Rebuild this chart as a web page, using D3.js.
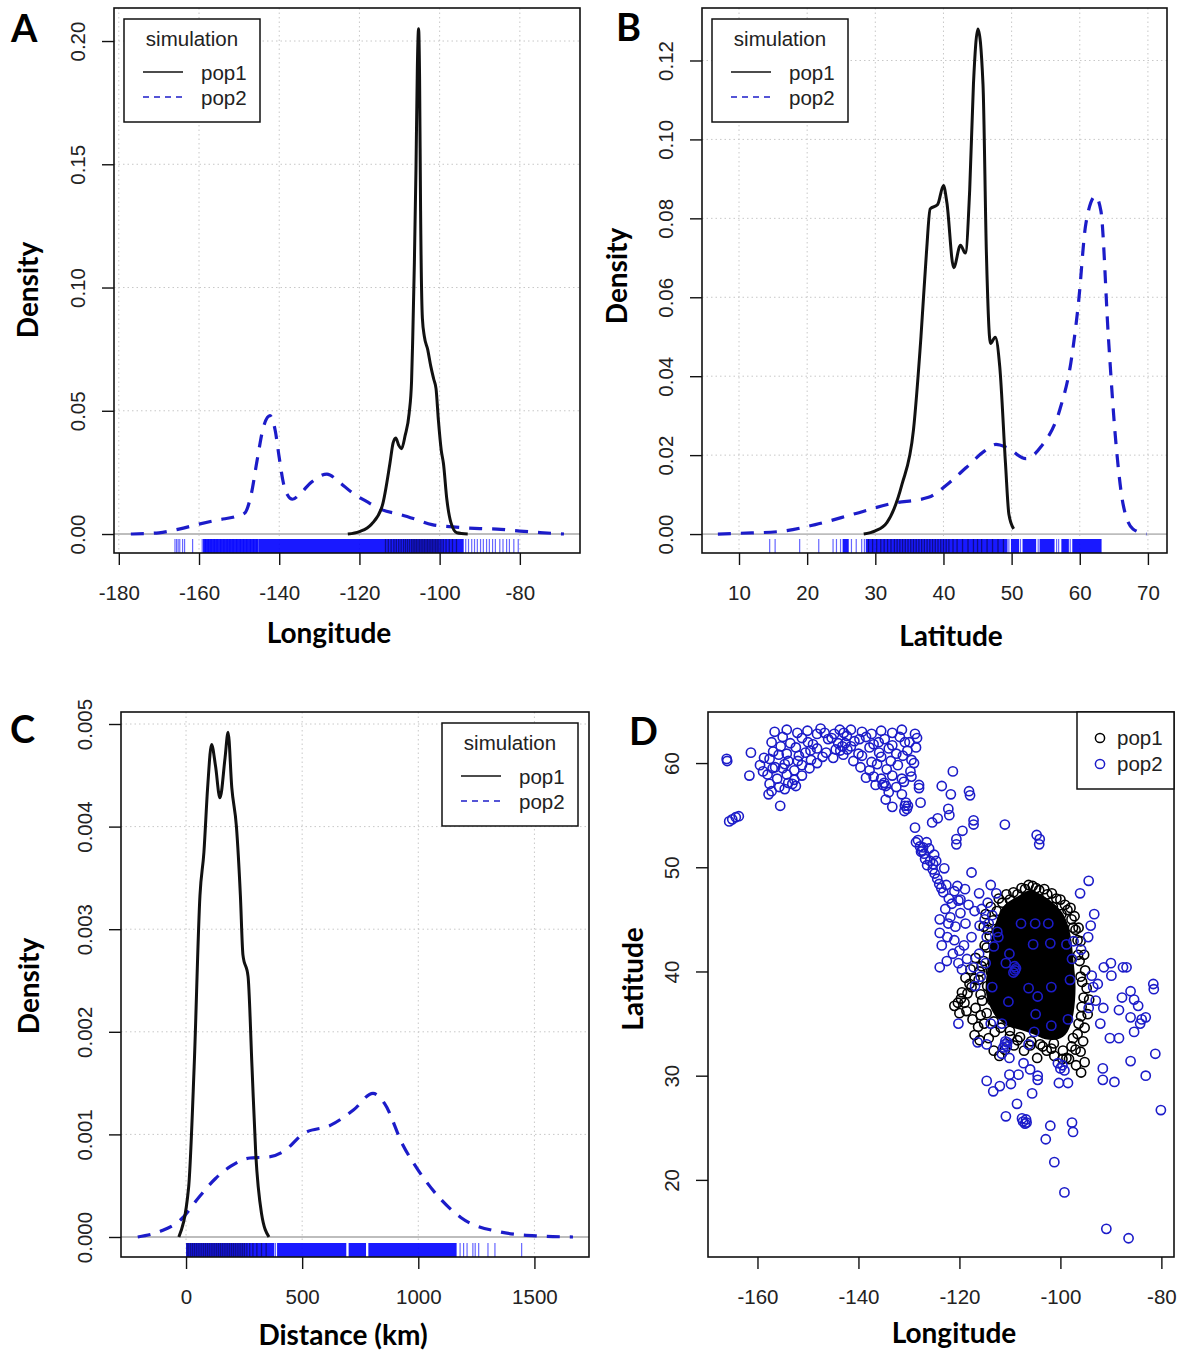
<!DOCTYPE html>
<html>
<head>
<meta charset="utf-8">
<script src="https://d3js.org/d3.v7.min.js"></script>
<style>
  body { margin: 0; background: #fff; }
  svg { display: block; }
</style>
</head>
<body>
<script>
// ---------- data ----------
// Panel A : longitude densities
const lonTicks = [-180, -160, -140, -120, -100, -80];
const densTicksA = [0, 0.05, 0.10, 0.15, 0.20];
const pop1Lon = [[-122.9,0],[-120,0.001],[-117,0.004],[-114.3,0.0115],[-112.4,0.0286],[-111.6,0.037],[-110.95,0.039],[-110.2,0.036],[-109.5,0.0346],[-108.6,0.040],[-107.6,0.049],[-107,0.062],[-106.7,0.080],[-106.3,0.11],[-105.9,0.148],[-105.55,0.19],[-105.25,0.205],[-105.0,0.185],[-104.75,0.131],[-104.3,0.0875],[-103.8,0.080],[-103.0,0.075],[-102.2,0.068],[-101.5,0.063],[-100.9,0.059],[-100.3,0.046],[-99.6,0.034],[-99.05,0.0286],[-98.2,0.014],[-97.2,0.0047],[-95.7,0.0005],[-93,0]];
const pop2Lon = [[-177,0],[-170,0.0005],[-165,0.002],[-160,0.004],[-155,0.0058],[-151,0.007],[-148.6,0.0085],[-147,0.016],[-145.5,0.030],[-144,0.043],[-142.3,0.048],[-141,0.042],[-140,0.031],[-139,0.021],[-138,0.016],[-136.7,0.0141],[-135,0.016],[-132,0.021],[-128.1,0.0243],[-125,0.021],[-122,0.017],[-118,0.013],[-114.3,0.0098],[-110,0.008],[-106,0.006],[-101.9,0.0038],[-96,0.0028],[-90,0.0022],[-85.7,0.002],[-80,0.0012],[-75,0.0006],[-69,0]];
const rugA2Bands = [[-159.0, -145.2], [-145.2, -94.0]];
const rugA2Lines = [-166.0,-165.6,-165.2,-164.8,-164.1,-163.6,-161.6,-159.2,-158.4,-157.7,-157.0,-156.2,-155.5,-154.6,-153.8,-153.0,-152.3,-151.5,-150.6,-149.7,-148.9,-148.1,-147.2,-146.4,-145.6,-93.5,-92.8,-92.0,-91.3,-90.6,-89.8,-89.1,-88.3,-87.6,-86.8,-86.1,-85.0,-84.2,-83.3,-82.6,-81.5,-80.4];
const rugA1Lines = [-113.5,-112.8,-112.1,-111.4,-110.8,-110.2,-109.6,-109.0,-108.5,-108.0,-107.5,-107.0,-106.6,-106.2,-105.8,-105.4,-105.0,-104.6,-104.2,-103.8,-103.4,-103.0,-102.6,-102.2,-101.8,-101.4,-101.0,-100.6,-100.2,-99.7,-99.1,-98.4,-97.6,-96.8,-95.8];

// Panel B : latitude densities
const latTicks = [10, 20, 30, 40, 50, 60, 70];
const densTicksB = [0, 0.02, 0.04, 0.06, 0.08, 0.10, 0.12];
const pop1Lat = [[28.3,0],[30,0.0008],[31.7,0.0029],[33.9,0.0125],[35.6,0.0264],[36.7,0.050],[37.5,0.0712],[38.05,0.0824],[39.15,0.0835],[40.0,0.0883],[40.5,0.084],[41.5,0.0675],[42.5,0.0732],[43.2,0.0712],[43.85,0.0872],[44.4,0.114],[45.06,0.128],[45.8,0.114],[46.3,0.0712],[46.9,0.0483],[47.6,0.0499],[48.26,0.0424],[49.1,0.0179],[49.6,0.005],[50.3,0.0013]];
const pop2Lat = [[6.9,0],[10.2,0.0002],[15.7,0.0006],[21.2,0.0024],[26.7,0.005],[32.3,0.0077],[37.8,0.0093],[40.5,0.0125],[43.3,0.0168],[46.0,0.021],[47.7,0.0227],[49.3,0.0219],[52.1,0.0191],[54.3,0.0221],[57.1,0.0317],[58.7,0.0435],[59.8,0.0584],[60.9,0.0787],[62.3,0.0856],[63.1,0.0819],[64.2,0.0499],[65.3,0.0232],[66.4,0.0072],[67.8,0.0013],[69.8,0]];
const rugB2Bands = [[25.2,26.1],[28.6,49.4],[49.9,51.1],[51.6,53.6],[54.1,56.3],[57.3,58.4],[58.9,63.2]];
const rugB2Lines = [14.5,15.3,18.9,21.7,23.8,24.3,24.9,26.5,27.2,28.0,28.4,49.6,51.3,53.9,56.6,56.9,58.6];
const rugB1Lines = [29.0,29.6,30.2,30.8,31.3,31.8,32.3,32.8,33.2,33.6,34.0,34.4,34.8,35.2,35.6,36.0,36.4,36.8,37.2,37.6,38.0,38.4,38.8,39.2,39.6,40.0,40.4,40.8,41.4,42.0,42.8,43.6,44.4,45.0,45.6,46.4,47.2,48.0,48.8];

// Panel C : distance densities
const distTicks = [0, 500, 1000, 1500];
const densTicksC = [0, 0.001, 0.002, 0.003, 0.004, 0.005];
const pop1Dist = [[-31,0],[11,0.00048],[35,0.00166],[60,0.00333],[77,0.00375],[93,0.00438],[110,0.0048],[127,0.00459],[146,0.00428],[168,0.00467],[181,0.00492],[197,0.00438],[217,0.0040],[234,0.00333],[245,0.00275],[267,0.00254],[284,0.00166],[300,0.00082],[325,0.00023],[357,0]];
const pop2Dist = [[-208,0],[-105,0.00006],[-22,0.00017],[60,0.0004],[127,0.00057],[193,0.00069],[275,0.00077],[357,0.00078],[424,0.00084],[507,0.00101],[623,0.00109],[722,0.00124],[805,0.0014],[855,0.0013],[933,0.0009],[1000,0.00065],[1100,0.00036],[1183,0.00019],[1352,0.00005],[1517,0.00001],[1666,0]];
const rugC2Bands = [[0,380],[392,690],[700,775],[785,1165]];
const rugC2Lines = [385,1180,1195,1210,1235,1245,1260,1300,1330,1445];
const rugC1Lines = [5,12,20,28,36,44,52,60,68,76,84,92,100,108,116,124,132,140,148,156,164,172,180,188,196,204,212,220,228,236,244,252,262,274,288,305,325,345];

// Panel D : scatter of locations
const lonTicksD = [-160, -140, -120, -100, -80];
const latTicksD = [20, 30, 40, 50, 60];
const pop1Core = [[-111,46.4],[-108.5,47.2],[-106,47.8],[-103.5,47.3],[-101,46.4],[-99.2,45.3],[-98,43.5],[-97.4,41],[-97,38.5],[-97.4,36],[-98.6,34.2],[-100.5,33.5],[-103,33.5],[-105.5,34],[-108,34.4],[-110.5,34.8],[-112.4,35.5],[-113.8,36.5],[-114.8,38.2],[-114.4,40.5],[-113.7,43],[-112.5,45.1]];
const pop1Pts = [[-121.0,36.7],[-120.3,37.0],[-119.7,37.4],[-119.0,37.0],[-118.4,37.9],[-117.6,38.5],[-118.6,36.2],[-117.4,35.4],[-116.3,34.7],[-116.0,33.4],[-117.0,33.9],[-115.1,35.0],[-114.2,33.6],[-113.2,32.4],[-112.1,31.9],[-111.0,32.5],[-109.2,32.9],[-107.2,32.4],[-104.6,31.7],[-102.7,32.4],[-101.2,31.9],[-99.6,31.6],[-98.3,31.6],[-96.9,31.0],[-95.9,30.3],[-95.2,31.3],[-96.0,32.3],[-95.5,33.3],[-95.2,34.6],[-94.6,35.9],[-94.3,37.3],[-94.8,38.4],[-95.1,40.1],[-95.3,41.6],[-96.0,42.9],[-96.4,44.2],[-97.2,45.3],[-98.0,46.1],[-99.1,46.4],[-100.8,47.0],[-102.6,47.4],[-104.2,47.8],[-105.5,48.2],[-107.0,47.9],[-108.5,47.4],[-110.0,46.9],[-111.5,46.6],[-112.6,45.8],[-113.3,44.9],[-114.0,43.4],[-114.6,42.3],[-115.2,41.0],[-116.0,40.0],[-117.0,39.3],[-118.0,38.8],[-112.0,36.0],[-113.5,37.2],[-115.5,37.2],[-116.8,36.5],[-115.8,35.8],[-113.0,34.2],[-110.0,33.8],[-108.5,33.4],[-106.0,32.9],[-103.5,32.8],[-101.3,33.1],[-97.5,33.6],[-96.4,35.0],[-95.8,36.6],[-96.0,39.5],[-96.5,41.6],[-97.5,44.2],[-99.8,45.5],[-101.5,46.2],[-103.8,46.6],[-106.8,47.0],[-109.2,46.2],[-111.0,45.6],[-112.3,44.0],[-113.0,42.0],[-113.8,40.0],[-114.5,38.6],[-98.8,31.7],[-97.0,32.5],
  [-115.2,44.3],[-114.8,45.5],[-113.8,46.2],[-112.2,47.0],[-110.7,47.4],[-109.3,47.6],[-107.7,48.0],[-106.3,48.3],[-104.8,48.0],[-103.2,47.9],[-101.7,47.5],[-100.0,46.9],[-98.6,45.9],[-97.8,45.0],[-97.0,44.0],[-96.6,43.0],[-96.2,41.0],[-95.7,39.0],[-95.4,37.5],[-95.9,35.7],[-96.6,34.0],[-97.8,32.8],[-99.5,32.4],[-101.8,32.6],[-104.0,33.0],[-105.8,33.3],[-108.0,33.7],[-110.0,34.3],[-111.8,34.6],[-113.2,35.2],[-114.6,36.0],[-115.8,37.8],[-116.2,39.2],[-115.6,40.5],[-115.0,42.5],[-114.4,44.0],[-120.0,36.0],[-119.5,38.0],[-118.8,39.4],[-117.8,40.2],[-116.8,41.3]];
const pop2Pts = [
  // northern arc
  [-156.6,63.0],[-154.2,63.2],[-152.1,62.9],[-150.1,63.1],[-148.2,62.8],[-147.5,63.3],[-146.7,62.9],[-143.7,63.2],[-142.9,62.9],[-141.5,63.2],[-139.3,63.0],[-137.4,62.8],[-135.5,63.1],[-133.3,62.9],[-131.4,63.2],[-128.8,62.8],
  [-157.2,62.0],[-155.0,62.5],[-153.5,61.9],[-151.2,62.4],[-149.0,61.8],[-145.3,62.4],[-144.0,61.9],[-142.3,62.6],[-140.8,62.1],[-138.5,62.5],[-137.0,61.8],[-134.8,62.3],[-133.3,61.7],[-131.8,62.5],[-129.9,62.0],[-128.4,62.4],
  [-156.9,61.1],[-155.4,61.6],[-154.2,60.9],[-152.4,61.5],[-150.5,61.0],[-148.2,61.4],[-146.4,61.0],[-144.5,61.3],[-143.0,60.8],[-141.5,61.6],[-140.0,60.9],[-137.8,61.5],[-135.9,61.0],[-134.0,61.4],[-132.5,60.9],[-130.3,61.2],[-128.6,61.5],
  [-157.6,60.4],[-155.8,60.8],[-153.9,60.2],[-151.8,60.7],[-149.4,60.3],[-147.1,60.6],[-145.0,60.5],[-141.0,60.2],[-139.3,60.7],[-137.4,60.1],[-135.5,60.6],[-133.6,60.2],[-131.2,60.7],[-129.5,60.3],
  [-156.5,59.6],[-154.6,59.9],[-152.7,59.3],[-151.2,59.8],[-149.7,59.5],[-148.2,60.0],[-139.6,59.6],[-137.8,59.3],[-136.3,59.9],[-134.4,59.4],[-132.2,59.8],[-129.7,59.2],
  [-158.0,58.9],[-156.1,58.5],[-154.2,58.9],[-152.7,58.4],[-151.2,58.8],[-137.0,58.7],[-135.5,58.5],[-133.3,58.8],[-131.4,58.5],[-129.5,58.7],
  [-157.6,58.0],[-155.7,57.7],[-153.9,58.1],[-152.4,57.8],[-136.6,57.9],[-132.5,57.7],[-128.0,57.9],[-157.2,57.3],[-154.6,57.5],[-153.1,58.0],
  [-159.5,59.8],[-157.0,59.5],[-150.0,62.0],[-146.0,62.3],[-144.8,62.8],[-139.8,62.3],[-136.0,62.0],[-130.8,62.0],[-129.0,60.0],[-131.0,58.2],[-149.5,61.2],[-155.0,59.5],[-152.0,60.2],[-138.5,58.6],[-134.0,57.2],
  [-166.1,60.4],[-166.0,60.2],[-165.6,54.4],[-165.0,54.6],[-164.3,54.8],[-163.7,54.9],[-161.3,61.0],[-161.6,58.8],[-158.7,60.5],[-158.9,59.2],[-157.8,57.0],[-155.5,55.9],[-134.6,56.5],[-133.3,55.8],[-131.4,57.0],[-127.7,56.2],[-128.0,57.6],[-128.8,53.8],
  [-143.2,61.6],[-142.6,61.9],[-143.6,61.2],[-142.2,61.3],[-134.9,58.1],[-134.6,57.8],[-135.2,57.9],[-130.8,55.9],[-130.4,55.6],[-130.6,56.2],[-130.2,55.9],[-130.9,55.4],
  // diagonal band
  [-128.6,52.4],[-128.2,52.6],[-127.8,52.0],[-127.4,51.6],[-127.0,51.3],[-127.6,51.5],[-127.2,51.9],[-126.8,50.8],[-126.4,50.2],[-125.8,50.6],[-125.3,49.8],[-124.9,49.4],[-124.4,48.9],[-124.0,48.4],[-123.6,48.0],[-123.2,47.6],[-122.6,48.3],[-122.1,47.0],[-121.5,46.5],[-121.0,47.7],[-120.4,48.2],[-119.8,46.9],[-125.4,54.3],[-124.3,54.7],[-123.5,57.8],[-121.7,57.0],[-121.3,59.2],[-122.2,55.6],[-122.0,55.0],[-120.6,52.7],[-120.6,52.2],[-119.4,53.5],[-118.1,57.3],[-117.9,56.9],[-117.2,54.5],[-117.2,54.1],[-111.0,54.1],[-104.7,53.1],[-104.1,52.7],[-104.2,52.2],[-126.0,51.8],[-125.0,51.2],[-124.6,50.6],[-123.0,49.9],[-126.5,52.4],[-125.2,50.3],
  [-123.9,45.0],[-123.9,43.7],[-123.5,42.5],[-123.9,40.4],[-122.4,43.3],[-121.3,41.7],[-120.2,40.8],[-119.1,42.5],[-117.6,43.3],[-116.1,41.7],[-114.6,43.3],[-115.0,45.0],[-113.5,45.4],[-117.6,49.5],[-116.1,47.5],[-113.8,48.3],[-112.7,47.5],[-122.8,46.0],[-121.8,45.2],[-120.8,44.3],[-119.8,45.6],[-118.8,44.6],[-118.2,46.4],[-117.0,45.8],[-116.0,44.4],[-114.4,46.6],[-122.5,41.0],[-121.0,43.0],[-120.0,42.0],[-118.5,41.2],[-117.2,40.4],[-119.5,40.2],[-122.2,44.6],[-120.2,46.8],[-118.9,47.9],[-115.6,46.0],[-114.2,44.6],[-112.5,43.8],[-113.2,42.4],[-114.8,40.8],[-115.8,39.5],[-116.9,38.6],
  // inside the pop1 cloud
  [-107.8,44.6],[-105.0,44.6],[-102.4,44.6],[-105.4,42.6],[-102.0,42.7],[-98.8,42.6],[-110.8,40.8],[-113.5,38.5],[-106.3,38.4],[-104.5,37.6],[-101.8,38.5],[-110.3,37.1],[-104.9,35.9],[-98.1,39.2],[-98.5,35.4],[-101.8,34.8],[-105.2,34.2],[-112.3,43.3],[-110.1,41.7],[-97.7,41.2],[-97.4,42.9],[-95.9,42.1],[-109.0,40.1],[-109.3,39.9],[-108.8,40.3],[-109.1,40.5],
  // east
  [-94.4,48.7],[-96.1,47.5],[-93.3,45.5],[-94.0,44.4],[-94.5,43.3],[-91.4,40.4],[-90.0,40.8],[-87.6,40.4],[-86.9,40.4],[-89.9,39.6],[-87.8,37.5],[-86.1,38.1],[-85.4,37.3],[-84.6,36.7],[-83.9,35.4],[-84.2,35.0],[-83.1,35.6],[-81.6,38.8],[-81.5,38.3],[-91.5,36.5],[-88.4,36.3],[-86.1,35.6],[-85.4,34.2],[-81.2,32.1],[-92.1,35.0],[-90.2,33.6],[-88.4,33.6],[-86.1,31.4],[-83.1,30.0],[-91.6,30.7],[-91.6,29.6],[-89.3,29.4],[-80.1,26.7],[-90.9,15.3],[-86.5,14.4],[-93.5,38.5],[-93.0,37.2],[-94.4,36.5],[-92.6,38.8],[-93.8,39.6],
  // south
  [-99.2,18.8],[-101.2,21.7],[-102.0,25.2],[-102.9,23.9],[-97.7,25.5],[-97.5,24.6],[-108.6,27.3],[-110.8,26.1],[-105.6,28.3],[-114.6,29.5],[-113.3,28.5],[-112.0,29.0],[-109.8,29.2],[-110.1,30.1],[-108.3,30.1],[-104.5,30.0],[-104.5,29.6],[-100.3,29.3],[-98.5,29.3],[-100.0,30.7],[-99.2,30.5],[-111.6,32.1],[-110.1,31.7],[-106.3,33.0],[-114.6,33.0],[-116.4,33.2],[-120.2,35.0],[-113.8,35.0],[-111.6,35.0],[-99.6,31.0],[-100.5,31.2],[-107.3,31.2],[-106.0,30.6],
  [-107.4,25.6],[-106.8,25.8],[-107.0,25.4],[-107.6,25.9],[-106.7,25.5],[-111.0,33.0],[-110.6,32.8],[-110.9,33.3],[-111.3,32.7],[-110.5,33.2]
];

// ---------- drawing ----------
const W = 1179, H = 1354;
const blue = '#1c1cc9', rugBlue = '#0000ff';
const tickFont = '"Liberation Sans", Arial, sans-serif';
const titleFont = 'Lato, "Open Sans", sans-serif';

const svg = d3.select('body').append('svg')
	.attr('width', W)
	.attr('height', H);
svg.append('rect').attr('width', W).attr('height', H).attr('fill', '#fff');

function fmt(v, dec) { return v.toFixed(dec) }

function drawFrame(p) {
	const g = svg.append('g');
	const [x0, x1] = p.x.range(), [y1, y0] = p.y.range();

	// axes
	const xAxis = g.append('g')
		.attr('transform', 'translate(0,' + y1 + ')')
		.call(d3.axisBottom(p.x).tickValues(p.xTicks).tickSize(12).tickSizeOuter(0).tickFormat(d => d));
	const yAxis = g.append('g')
		.attr('transform', 'translate(' + x0 + ',0)')
		.call(d3.axisLeft(p.y).tickValues(p.yTicks).tickSize(12).tickSizeOuter(0).tickFormat(d => fmt(d, p.yDec)));
	[xAxis, yAxis].forEach(a => {
		a.select('.domain').remove();
		a.selectAll('line').attr('stroke', '#111').attr('stroke-width', 1.4);
		a.selectAll('text').attr('font-family', tickFont).attr('font-size', '20.5px').attr('fill', '#222');
	});
	xAxis.selectAll('text').attr('y', 47).attr('dy', null);
	yAxis.selectAll('text')
		.attr('transform', 'rotate(-90)')
		.attr('text-anchor', 'middle')
		.attr('x', 0).attr('y', -29).attr('dy', null);

	// titles
	g.append('text')
		.attr('x', p.xTitlePos[0]).attr('y', p.xTitlePos[1])
		.attr('text-anchor', 'middle')
		.attr('font-family', titleFont).attr('font-weight', 'bold').attr('font-size', '28px')
		.text(p.xTitle);
	g.append('text')
		.attr('transform', 'translate(' + p.yTitlePos[0] + ',' + p.yTitlePos[1] + ') rotate(-90)')
		.attr('text-anchor', 'middle')
		.attr('font-family', titleFont).attr('font-weight', 'bold').attr('font-size', '28px')
		.text(p.yTitle);
	g.append('text')
		.attr('x', p.letterPos[0]).attr('y', p.letterPos[1])
		.attr('font-family', titleFont).attr('font-weight', 'bold').attr('font-size', '38px')
		.text(p.letter);
	return g;
}

function drawBox(g, p) {
	const [x0, x1] = p.x.range(), [y1, y0] = p.y.range();
	g.append('rect')
		.attr('x', x0).attr('y', y0)
		.attr('width', x1 - x0).attr('height', y1 - y0)
		.attr('fill', 'none').attr('stroke', '#111').attr('stroke-width', 1.6);
}

let clipId = 0;
function densityPanel(p) {
	const g = drawFrame(p);
	const [x0, x1] = p.x.range(), [y1, y0] = p.y.range();
	const id = 'clip' + (++clipId);
	g.append('clipPath').attr('id', id)
		.append('rect').attr('x', x0).attr('y', y0).attr('width', x1 - x0).attr('height', y1 - y0);
	const inner = g.append('g').attr('clip-path', 'url(#' + id + ')');

	// dotted grid
	inner.selectAll('line.vg').data(p.xTicks).enter().append('line')
		.attr('x1', d => p.x(d)).attr('x2', d => p.x(d))
		.attr('y1', y0).attr('y2', y1)
		.attr('stroke', '#c8c8c8').attr('stroke-width', 1).attr('stroke-dasharray', '1.5,3');
	inner.selectAll('line.hg').data(p.yTicks.filter(d => d > 0)).enter().append('line')
		.attr('x1', x0).attr('x2', x1)
		.attr('y1', d => p.y(d)).attr('y2', d => p.y(d))
		.attr('stroke', '#c8c8c8').attr('stroke-width', 1).attr('stroke-dasharray', '1.5,3');
	// zero line
	inner.append('line')
		.attr('x1', x0).attr('x2', x1)
		.attr('y1', p.y(0)).attr('y2', p.y(0))
		.attr('stroke', '#bdbdbd').attr('stroke-width', 1.8);

	// rug
	const rugTop = y1 - 14;
	inner.selectAll('rect.rb').data(p.rug2Bands).enter().append('rect')
		.attr('x', d => p.x(d[0])).attr('width', d => p.x(d[1]) - p.x(d[0]))
		.attr('y', rugTop).attr('height', 14)
		.attr('fill', rugBlue).attr('fill-opacity', 0.9);
	inner.selectAll('line.r2').data(p.rug2Lines).enter().append('line')
		.attr('x1', d => p.x(d)).attr('x2', d => p.x(d))
		.attr('y1', rugTop).attr('y2', y1)
		.attr('stroke', rugBlue).attr('stroke-opacity', 0.6).attr('stroke-width', 1.2);
	inner.selectAll('line.r1').data(p.rug1Lines).enter().append('line')
		.attr('x1', d => p.x(d)).attr('x2', d => p.x(d))
		.attr('y1', rugTop).attr('y2', y1)
		.attr('stroke', '#000').attr('stroke-opacity', 0.45).attr('stroke-width', 1.3);

	// curves
	const line = d3.line()
		.x(d => p.x(d[0]))
		.y(d => p.y(d[1]))
		.curve(d3.curveMonotoneX);
	inner.append('path').datum(p.pop2)
		.attr('d', line)
		.attr('fill', 'none').attr('stroke', blue).attr('stroke-width', 3.2)
		.attr('stroke-dasharray', '13,10');
	inner.append('path').datum(p.pop1)
		.attr('d', line)
		.attr('fill', 'none').attr('stroke', '#111').attr('stroke-width', 3)
		.attr('stroke-linejoin', 'round');

	drawBox(g, p);

	// legend
	const L = p.legend;
	const lg = g.append('g').attr('transform', 'translate(' + L[0] + ',' + L[1] + ')');
	lg.append('rect').attr('width', 136).attr('height', 103)
		.attr('fill', '#fff').attr('stroke', '#111').attr('stroke-width', 1.5);
	lg.append('text').attr('x', 68).attr('y', 27).attr('text-anchor', 'middle')
		.attr('font-family', tickFont).attr('font-size', '20.5px').attr('fill', '#222')
		.text('simulation');
	const items = [{ name: 'pop1', color: '#111', dash: null }, { name: 'pop2', color: blue, dash: '6,5' }];
	items.forEach((it, i) => {
		lg.append('line')
			.attr('x1', 19).attr('x2', 59)
			.attr('y1', 53 + i * 25).attr('y2', 53 + i * 25)
			.attr('stroke', it.color).attr('stroke-width', 1.3)
			.attr('stroke-dasharray', it.dash);
		lg.append('text').attr('x', 77).attr('y', 61 + i * 25)
			.attr('font-family', tickFont).attr('font-size', '20.5px').attr('fill', '#222')
			.text(it.name);
	});
}

// Panel A
densityPanel({
	x: d3.scaleLinear().domain([-181.2, -65.0]).range([114, 580]),
	y: d3.scaleLinear().domain([-0.0077, 0.2134]).range([553, 8]),
	xTicks: lonTicks, yTicks: densTicksA, yDec: 2,
	pop1: pop1Lon, pop2: pop2Lon,
	rug2Bands: rugA2Bands, rug2Lines: rugA2Lines, rug1Lines: rugA1Lines,
	xTitle: 'Longitude', xTitlePos: [329, 643],
	yTitle: 'Density', yTitlePos: [38, 290],
	letter: 'A', letterPos: [11, 42],
	legend: [124, 19]
});

// Panel B
densityPanel({
	x: d3.scaleLinear().domain([4.57, 72.8]).range([702, 1167]),
	y: d3.scaleLinear().domain([-0.0048, 0.1333]).range([553, 8]),
	xTicks: latTicks, yTicks: densTicksB, yDec: 2,
	pop1: pop1Lat, pop2: pop2Lat,
	rug2Bands: rugB2Bands, rug2Lines: rugB2Lines, rug1Lines: rugB1Lines,
	xTitle: 'Latitude', xTitlePos: [951, 646],
	yTitle: 'Density', yTitlePos: [627, 276],
	letter: 'B', letterPos: [616, 41],
	legend: [712, 19]
});

// Panel C
densityPanel({
	x: d3.scaleLinear().domain([-280, 1735]).range([121, 589]),
	y: d3.scaleLinear().domain([-0.000195, 0.005117]).range([1257, 712]),
	xTicks: distTicks, yTicks: densTicksC, yDec: 3,
	pop1: pop1Dist, pop2: pop2Dist,
	rug2Bands: rugC2Bands, rug2Lines: rugC2Lines, rug1Lines: rugC1Lines,
	xTitle: 'Distance (km)', xTitlePos: [343, 1345],
	yTitle: 'Density', yTitlePos: [39, 986],
	letter: 'C', letterPos: [10, 743],
	legend: [442, 723]
});

// Panel D
(function () {
	const p = {
		x: d3.scaleLinear().domain([-169.8, -77.5]).range([708, 1174]),
		y: d3.scaleLinear().domain([12.6, 64.9]).range([1257, 712]),
		xTicks: lonTicksD, yTicks: latTicksD, yDec: 0,
		xTitle: 'Longitude', xTitlePos: [954, 1343],
		yTitle: 'Latitude', yTitlePos: [643, 979],
		letter: 'D', letterPos: [629, 745]
	};
	const g = drawFrame(p);
	const [x0, x1] = p.x.range(), [y1, y0] = p.y.range();

	// dense pop1 core
	g.append('path').datum(pop1Core)
		.attr('d', d3.line().x(d => p.x(d[0])).y(d => p.y(d[1])).curve(d3.curveCardinalClosed))
		.attr('fill', '#000');
	g.selectAll('circle.p1').data(pop1Pts).enter().append('circle')
		.attr('cx', d => p.x(d[0])).attr('cy', d => p.y(d[1])).attr('r', 4.6)
		.attr('fill', 'none').attr('stroke', '#000').attr('stroke-width', 1.6);
	g.selectAll('circle.p2').data(pop2Pts).enter().append('circle')
		.attr('cx', d => p.x(d[0])).attr('cy', d => p.y(d[1])).attr('r', 4.6)
		.attr('fill', 'none').attr('stroke', blue).attr('stroke-width', 1.6);

	drawBox(g, p);

	// legend
	const lg = g.append('g').attr('transform', 'translate(1077,' + y0 + ')');
	lg.append('rect').attr('width', x1 - 1077).attr('height', 77)
		.attr('fill', '#fff').attr('stroke', '#111').attr('stroke-width', 1.5);
	[{ name: 'pop1', color: '#000' }, { name: 'pop2', color: blue }].forEach((it, i) => {
		lg.append('circle').attr('cx', 23).attr('cy', 26 + i * 26).attr('r', 4.6)
			.attr('fill', 'none').attr('stroke', it.color).attr('stroke-width', 1.5);
		lg.append('text').attr('x', 40).attr('y', 33 + i * 26)
			.attr('font-family', tickFont).attr('font-size', '20.5px').attr('fill', '#222')
			.text(it.name);
	});
})();
</script>
</body>
</html>
